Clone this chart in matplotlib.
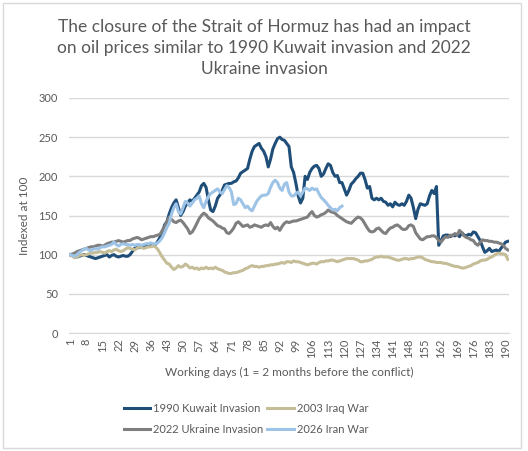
import matplotlib.pyplot as plt
from matplotlib.patches import Rectangle

plt.rcParams['font.family'] = ['Lato', 'DejaVu Sans']

# daily index values (day 1 = 100)
kuwait_1990 = [
    100, 99, 98, 97, 98, 99, 100, 99, 98, 97, 96, 95, 96, 97, 98, 99, 100, 97, 99, 100,
    98, 97, 98, 99, 98, 98, 100, 104, 108, 109, 109, 110, 110, 111, 111, 112, 112, 113, 117, 122,
    128, 138, 142, 152, 160, 166, 170, 160, 150, 155, 162, 166, 170, 168, 172, 176, 180, 188, 191, 186,
    170, 157, 155, 162, 172, 176, 182, 189, 190, 191, 191, 193, 194, 198, 204, 206, 208, 210, 222, 232,
    238, 240, 242, 236, 232, 225, 212, 222, 235, 242, 248, 250, 247, 246, 242, 238, 212, 205, 191, 175,
    166, 172, 200, 196, 205, 210, 213, 214, 210, 200, 203, 210, 216, 214, 205, 200, 201, 192, 192, 184,
    176, 182, 190, 193, 197, 200, 204, 204, 196, 185, 187, 172, 170, 172, 170, 172, 168, 167, 163, 165,
    161, 167, 164, 163, 165, 163, 168, 176, 172, 160, 146, 158, 165, 164, 163, 165, 175, 182, 178, 187,
    112, 118, 124, 125, 125, 123, 125, 124, 126, 123, 128, 125, 124, 126, 125, 129, 128, 123, 118, 110,
    103, 105, 108, 104, 105, 106, 104, 108, 112, 116, 117,
]

iraq_2003 = [
    100, 98, 96, 97, 99, 100, 99, 100, 101, 102, 102, 103, 103, 104, 103, 102, 104, 105, 104, 106,
    107, 105, 104, 105, 107, 109, 108, 107, 106, 108, 110, 109, 108, 109, 110, 110, 111, 110, 107, 102,
    97, 93, 89, 88, 84, 81, 83, 86, 84, 85, 88, 86, 83, 84, 82, 83, 81, 83, 82, 84,
    82, 83, 82, 84, 82, 81, 80, 78, 77, 76, 76, 77, 77, 78, 79, 80, 82, 83, 85, 86,
    85, 85, 84, 85, 85, 86, 86, 87, 87, 88, 88, 89, 90, 89, 91, 91, 90, 92, 91, 91,
    90, 89, 88, 87, 88, 89, 89, 88, 90, 91, 91, 92, 92, 93, 93, 92, 91, 92, 93, 94,
    95, 95, 95, 95, 94, 93, 91, 91, 92, 92, 93, 94, 96, 97, 97, 98, 97, 97, 97, 96,
    95, 94, 93, 93, 94, 95, 95, 94, 95, 95, 96, 97, 97, 96, 94, 93, 92, 91, 91, 90,
    90, 90, 89, 89, 88, 87, 86, 85, 85, 84, 83, 83, 84, 85, 86, 88, 89, 90, 92, 93,
    93, 94, 96, 97, 99, 101, 102, 101, 101, 100, 94,
]

ukraine_2022 = [
    100, 101, 102, 104, 105, 106, 107, 108, 109, 110, 110, 111, 112, 112, 111, 112, 114, 115, 116, 116,
    117, 118, 117, 116, 117, 118, 118, 120, 121, 122, 121, 119, 120, 121, 122, 123, 123, 124, 125, 126,
    131, 136, 142, 148, 145, 142, 141, 143, 144, 141, 137, 133, 127, 129, 134, 140, 146, 150, 153, 151,
    147, 145, 143, 140, 137, 136, 134, 133, 128, 127, 130, 134, 140, 142, 139, 136, 137, 138, 135, 136,
    138, 137, 136, 135, 137, 138, 137, 141, 136, 133, 135, 131, 136, 140, 142, 141, 142, 143, 143, 144,
    145, 146, 147, 148, 152, 155, 150, 148, 149, 151, 152, 154, 157, 155, 154, 153, 150, 148, 146, 144,
    142, 141, 140, 143, 146, 148, 147, 144, 139, 134, 130, 129, 130, 133, 134, 131, 128, 127, 131, 134,
    135, 137, 138, 136, 133, 132, 133, 137, 138, 136, 128, 124, 120, 119, 121, 123, 123, 124, 124, 122,
    118, 116, 120, 123, 122, 125, 124, 127, 125, 131, 128, 124, 122, 121, 119, 118, 114, 112, 116, 119,
    118, 118, 117, 117, 116, 116, 115, 114, 112, 108, 106,
]

iran_2026 = [
    100, 99, 98, 100, 103, 105, 107, 108, 106, 105, 107, 108, 107, 109, 110, 110, 111, 112, 113, 116,
    113, 111, 113, 114, 113, 113, 112, 113, 112, 113, 113, 112, 113, 114, 114, 115, 114, 114, 115, 118,
    122, 128, 135, 140, 152, 160, 165, 155, 152, 160, 168, 166, 162, 166, 170, 172, 175, 165, 160, 168,
    174, 178, 180, 182, 184, 180, 178, 183, 188, 186, 180, 164, 165, 172, 170, 165, 160, 162, 158, 156,
    162, 168, 172, 175, 176, 176, 178, 186, 192, 195, 192, 185, 182, 190, 192, 180, 175, 175, 178, 180,
    175, 180, 185, 184, 182, 185, 183, 184, 178, 173, 170, 167, 163, 160, 157, 158, 156, 160, 162,
]

series = [
    ('1990 Kuwait Invasion', kuwait_1990, '#1F4E79'),
    ('2003 Iraq War', iraq_2003, '#C4BD97'),
    ('2022 Ukraine Invasion', ukraine_2022, '#7F7F7F'),
    ('2026 Iran War', iran_2026, '#9DC3E6'),
]

fig = plt.figure(figsize=(5.28, 4.51), dpi=100)
ax = fig.add_axes([69 / 528, 118 / 451, 440 / 528, 235 / 451])

lines = {}
for name, vals, col in series:
    days = list(range(1, len(vals) + 1))
    lines[name], = ax.plot(days, vals, color=col, lw=2.2, label=name,
                           solid_joinstyle='round')

ax.set_xlim(0.5, 191.5)
ax.set_ylim(0, 300)
ax.set_yticks(range(0, 301, 50))
ax.set_xticks(range(1, 191, 7))
ax.tick_params(axis='x', labelrotation=90, length=0, pad=4)
ax.tick_params(axis='y', length=0, pad=8)
ax.tick_params(labelsize=8, labelcolor='#595959')
ax.grid(axis='y', color='#D9D9D9', lw=1)
ax.set_axisbelow(True)
for s in ['top', 'right', 'left']:
    ax.spines[s].set_visible(False)
ax.spines['bottom'].set_color('#D9D9D9')

ax.set_ylabel('Indexed at 100', fontsize=8.5, color='#595959', labelpad=6)
ax.set_xlabel('Working days (1 = 2 months before the conflict)', fontsize=8.5,
              color='#595959', labelpad=6)
fig.text(0.5, 1 - 48 / 451,
         'The closure of the Strait of Hormuz has had an impact\n'
         'on oil prices similar to 1990 Kuwait invasion and 2022\n'
         'Ukraine invasion', ha='center', va='center', fontsize=12.5,
         color='#595959', linespacing=1.4)

# legend rows: Kuwait / Iraq, then Ukraine / Iran (matplotlib fills by column)
order = ['1990 Kuwait Invasion', '2022 Ukraine Invasion', '2003 Iraq War', '2026 Iran War']
fig.legend([lines[n] for n in order], order, loc='center',
           bbox_to_anchor=(246 / 528, 1 - 419 / 451), ncol=2, frameon=False,
           fontsize=8, handlelength=2.4, columnspacing=0.35, handletextpad=0.25,
           labelcolor='#595959', labelspacing=0.85)

fig.patches.append(Rectangle((3 / 528, 3 / 451), 518 / 528, 445 / 451,
                             transform=fig.transFigure, fill=False,
                             edgecolor='#D9D9D9', lw=1))

fig.savefig('out.png', dpi=100)
